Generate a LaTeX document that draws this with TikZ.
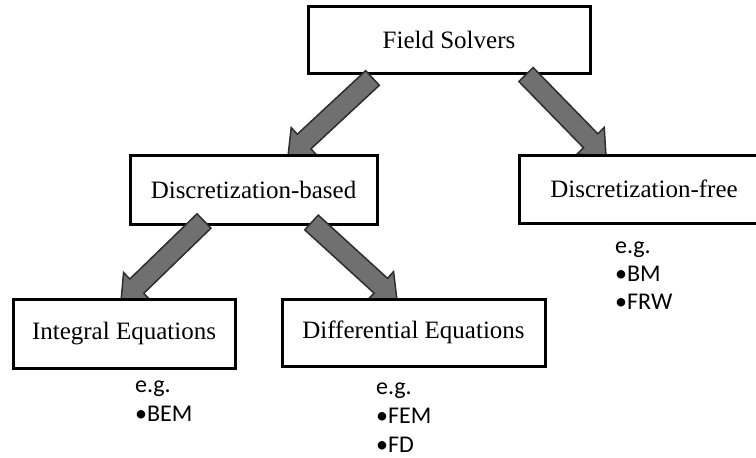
\documentclass[tikz,border=0pt]{standalone}
\usepackage{fontspec}
\setmainfont{Liberation Serif}
\newfontfamily\carlfont{Carlito}
\usetikzlibrary{calc}
\pgfdeclarelayer{lzero}
\pgfdeclarelayer{lone}
\pgfdeclarelayer{ltwo}
\pgfdeclarelayer{lthree}
\pgfsetlayers{lzero,lone,ltwo,lthree,main}
\definecolor{arrfill}{RGB}{112,112,112}
\definecolor{arrline}{RGB}{45,45,45}
\tikzset{
  boxnode/.style={draw=black, line width=3pt, fill=white, font=\fontsize{25}{30}\selectfont, inner sep=0pt},
  listtext/.style={anchor=base west, inner sep=0pt, font=\carlfont\fontsize{24}{28}\selectfont},
  arrstyle/.style={fill=arrfill, draw=arrline, line width=1.5pt, line join=miter}
}
\newcommand{\blockarr}[2]{%
  \coordinate (hb) at ($(#2)!22pt!(#1)$);
  \draw[arrstyle] ($(#1)!10pt!90:(#2)$) -- ($(hb)!10pt!90:(#2)$) -- ($(hb)!19pt!90:(#2)$) -- (#2)
    -- ($(hb)!19pt!-90:(#2)$) -- ($(hb)!10pt!-90:(#2)$) -- ($(#1)!10pt!-90:(#2)$) -- cycle;}
\begin{document}
\begin{tikzpicture}[x=1pt,y=-1pt]
\useasboundingbox (0,0) rectangle (756,458);
\begin{pgfonlayer}{lzero}
\node[boxnode, minimum width=282pt, minimum height=67pt] (fs) at (449,39.5) {Field Solvers};
\end{pgfonlayer}
\begin{pgfonlayer}{ltwo}
\node[boxnode, minimum width=247pt, minimum height=69pt] (db) at (253.5,189.5) {Discretization-based};
\node[boxnode, minimum width=250pt, minimum height=68pt] (df) at (644,189) {Discretization-free};
\end{pgfonlayer}
\node[boxnode, minimum width=222pt, minimum height=69pt] (ie) at (124,333.5) {Integral Equations};
\node[boxnode, minimum width=263pt, minimum height=67pt] (de) at (413.5,332.5) {Differential Equations};
% arrow end points
\coordinate (s1) at ($(fs.south)+(-76.5,3.5)$);
\coordinate (e1) at ($(db.north)+(34.5,3)$);
\coordinate (s2) at ($(fs.south)+(77,0)$);
\coordinate (e2) at ($(df.north)+(-38,3)$);
\coordinate (s3) at ($(db.south)+(-49.5,-4.5)$);
\coordinate (e3) at ($(ie.north)+(-3,4)$);
\coordinate (s4) at ($(db.south)+(58,-3)$);
\coordinate (e4) at ($(de.north)+(-16.5,3)$);
\begin{pgfonlayer}{lone}
\blockarr{s1}{e1}
\blockarr{s2}{e2}
\end{pgfonlayer}
\begin{pgfonlayer}{lthree}
\blockarr{s3}{e3}
\blockarr{s4}{e4}
\end{pgfonlayer}
% example lists
\node[listtext] (dfa) at (615,253) {e.g.};
\node[listtext] (dfb) at (615,281) {•BM};
\node[listtext] (dfc) at (615,309) {•FRW};
\node[listtext] (iea) at (135,392) {e.g.};
\node[listtext] (ieb) at (135,421) {•BEM};
\node[listtext] (dea) at (376,394) {e.g.};
\node[listtext] (deb) at (376,423) {•FEM};
\node[listtext] (dec) at (376,452) {•FD};
\end{tikzpicture}
\end{document}
